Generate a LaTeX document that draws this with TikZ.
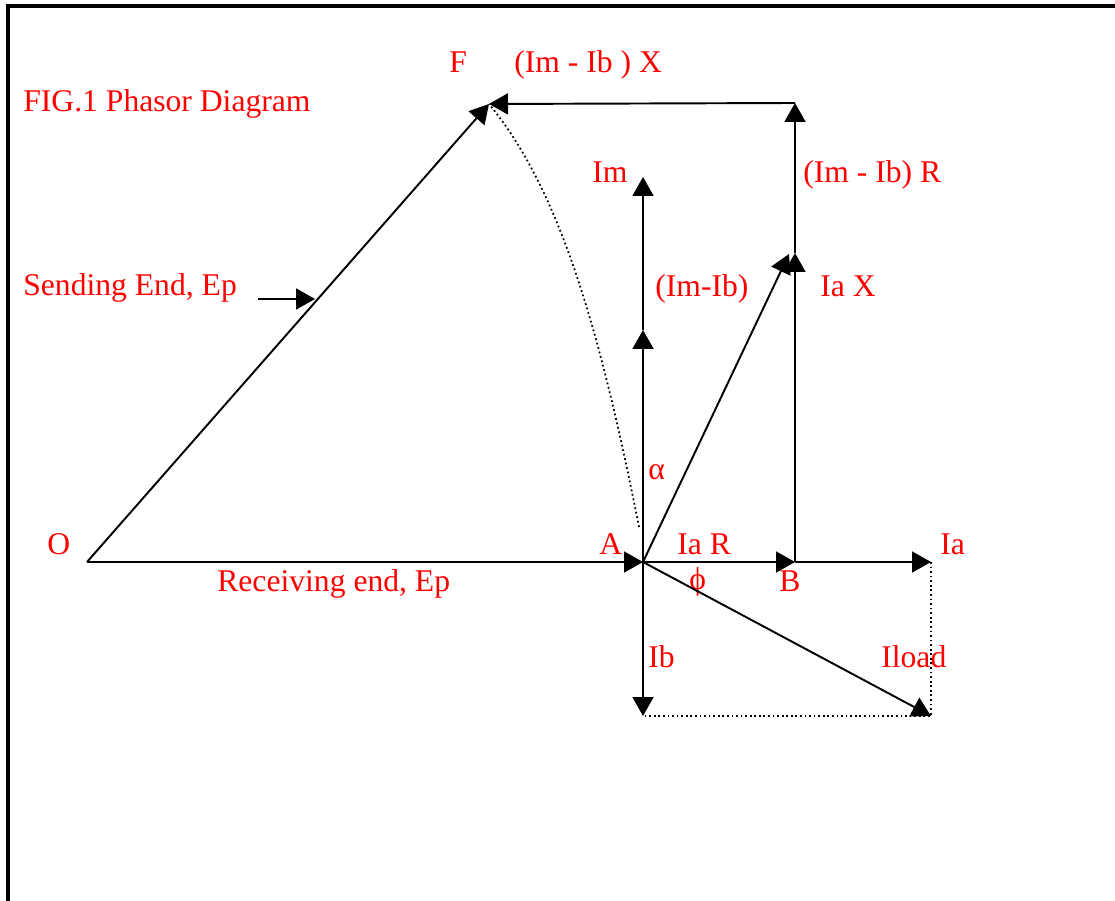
\documentclass[tikz,border=0pt]{standalone}
\usepackage{fontspec}
\setmainfont{Liberation Serif}
\usetikzlibrary{arrows.meta, positioning}

\begin{document}
\begin{tikzpicture}[
    x=0.02cm, y=-0.02cm,
    vec/.style={-{Triangle[length=0.38cm, width=0.42cm]}, line width=1.1pt},
    guide/.style={line width=1pt, dash pattern=on 1pt off 1.6pt},
    lbl/.style={text=red, inner sep=0pt, anchor=base west,
                font=\fontsize{18}{21}\selectfont},
    frame/.style={line width=1.8pt}
]
\useasboundingbox (0,0) rectangle (1115,901);

% page frame
\coordinate (tl) at (8,6);
\coordinate (tr) at (1125,6);
\coordinate (bl) at (8,910);
\draw[frame] (bl) -- (tl) -- (tr);

% phasor end points
\coordinate (O)     at (87,562);
\coordinate (A)     at (643,562);
\coordinate (B)     at (795,562);
\coordinate (Ia)    at (931,562);
\coordinate (Ib)    at (643,716);
\coordinate (Iload) at (931,716);
\coordinate (Imb)   at (643,330);
\coordinate (Im)    at (643,177);
\coordinate (Ax)    at (789,254);
\coordinate (Bx)    at (795,253);
\coordinate (Br)    at (795,103);
\coordinate (F)     at (489,104);
\coordinate (sendtail) at (258,299);
\coordinate (sendhead) at (315,299);
\coordinate (arcend)   at (639,527);

% labels
\node[lbl] (title)   at (23,112)  {FIG.1 Phasor Diagram};
\node[lbl] (lblF)    at (449,73)  {F};
\node[lbl] (lblImbX) at (514,73)  {(Im - Ib ) X};
\node[lbl] (lblIm)   at (592,183) {Im};
\node[lbl] (lblImbR) at (803,183) {(Im - Ib) R};
\node[lbl] (lblImb)  at (655,297) {(Im-Ib)};
\node[lbl] (lblIaX)  at (820,297) {Ia X};
\node[lbl] (lblSend) at (23,296)  {Sending End, Ep};
\node[lbl] (lblalpha) at (648,480) {α};
\node[lbl] (lblO)    at (47,555)  {O};
\node[lbl] (lblA)    at (599,555) {A};
\node[lbl] (lblIaR)  at (677,555) {Ia R};
\node[lbl] (lblIa)   at (940,555) {Ia};
\node[lbl] (lblRecv) at (217,591) {Receiving end, Ep};
\node[lbl] (lblphi)  at (689,589) {ϕ};
\node[lbl] (lblB)    at (779,591) {B};
\node[lbl] (lblIb)   at (648,667) {Ib};
\node[lbl] (lblIload) at (881,667) {Iload};

% phasors
\draw[vec] (O) -- (A);
\draw[vec] (O) -- (F);
\draw[vec] (A) -- (B);
\draw[vec] (B) -- (Ia);
\draw[vec] (A) -- (Ib);
\draw[vec] (A) -- (Iload);
\draw[vec] (A) -- (Imb);
\draw[vec] (Imb) -- (Im);
\draw[vec] (A) -- (Ax);
\draw[vec] (B) -- (Bx);
\draw[vec] (Bx) -- (Br);
\draw[vec] (Br) -- (F);
\draw[vec] (sendtail) -- (sendhead);

% construction lines
\draw[guide] (Ia) -- (Iload) -- (Ib);
\draw[guide] (arcend) .. controls (600,330) and (560,190) .. (F);

\end{tikzpicture}
\end{document}
